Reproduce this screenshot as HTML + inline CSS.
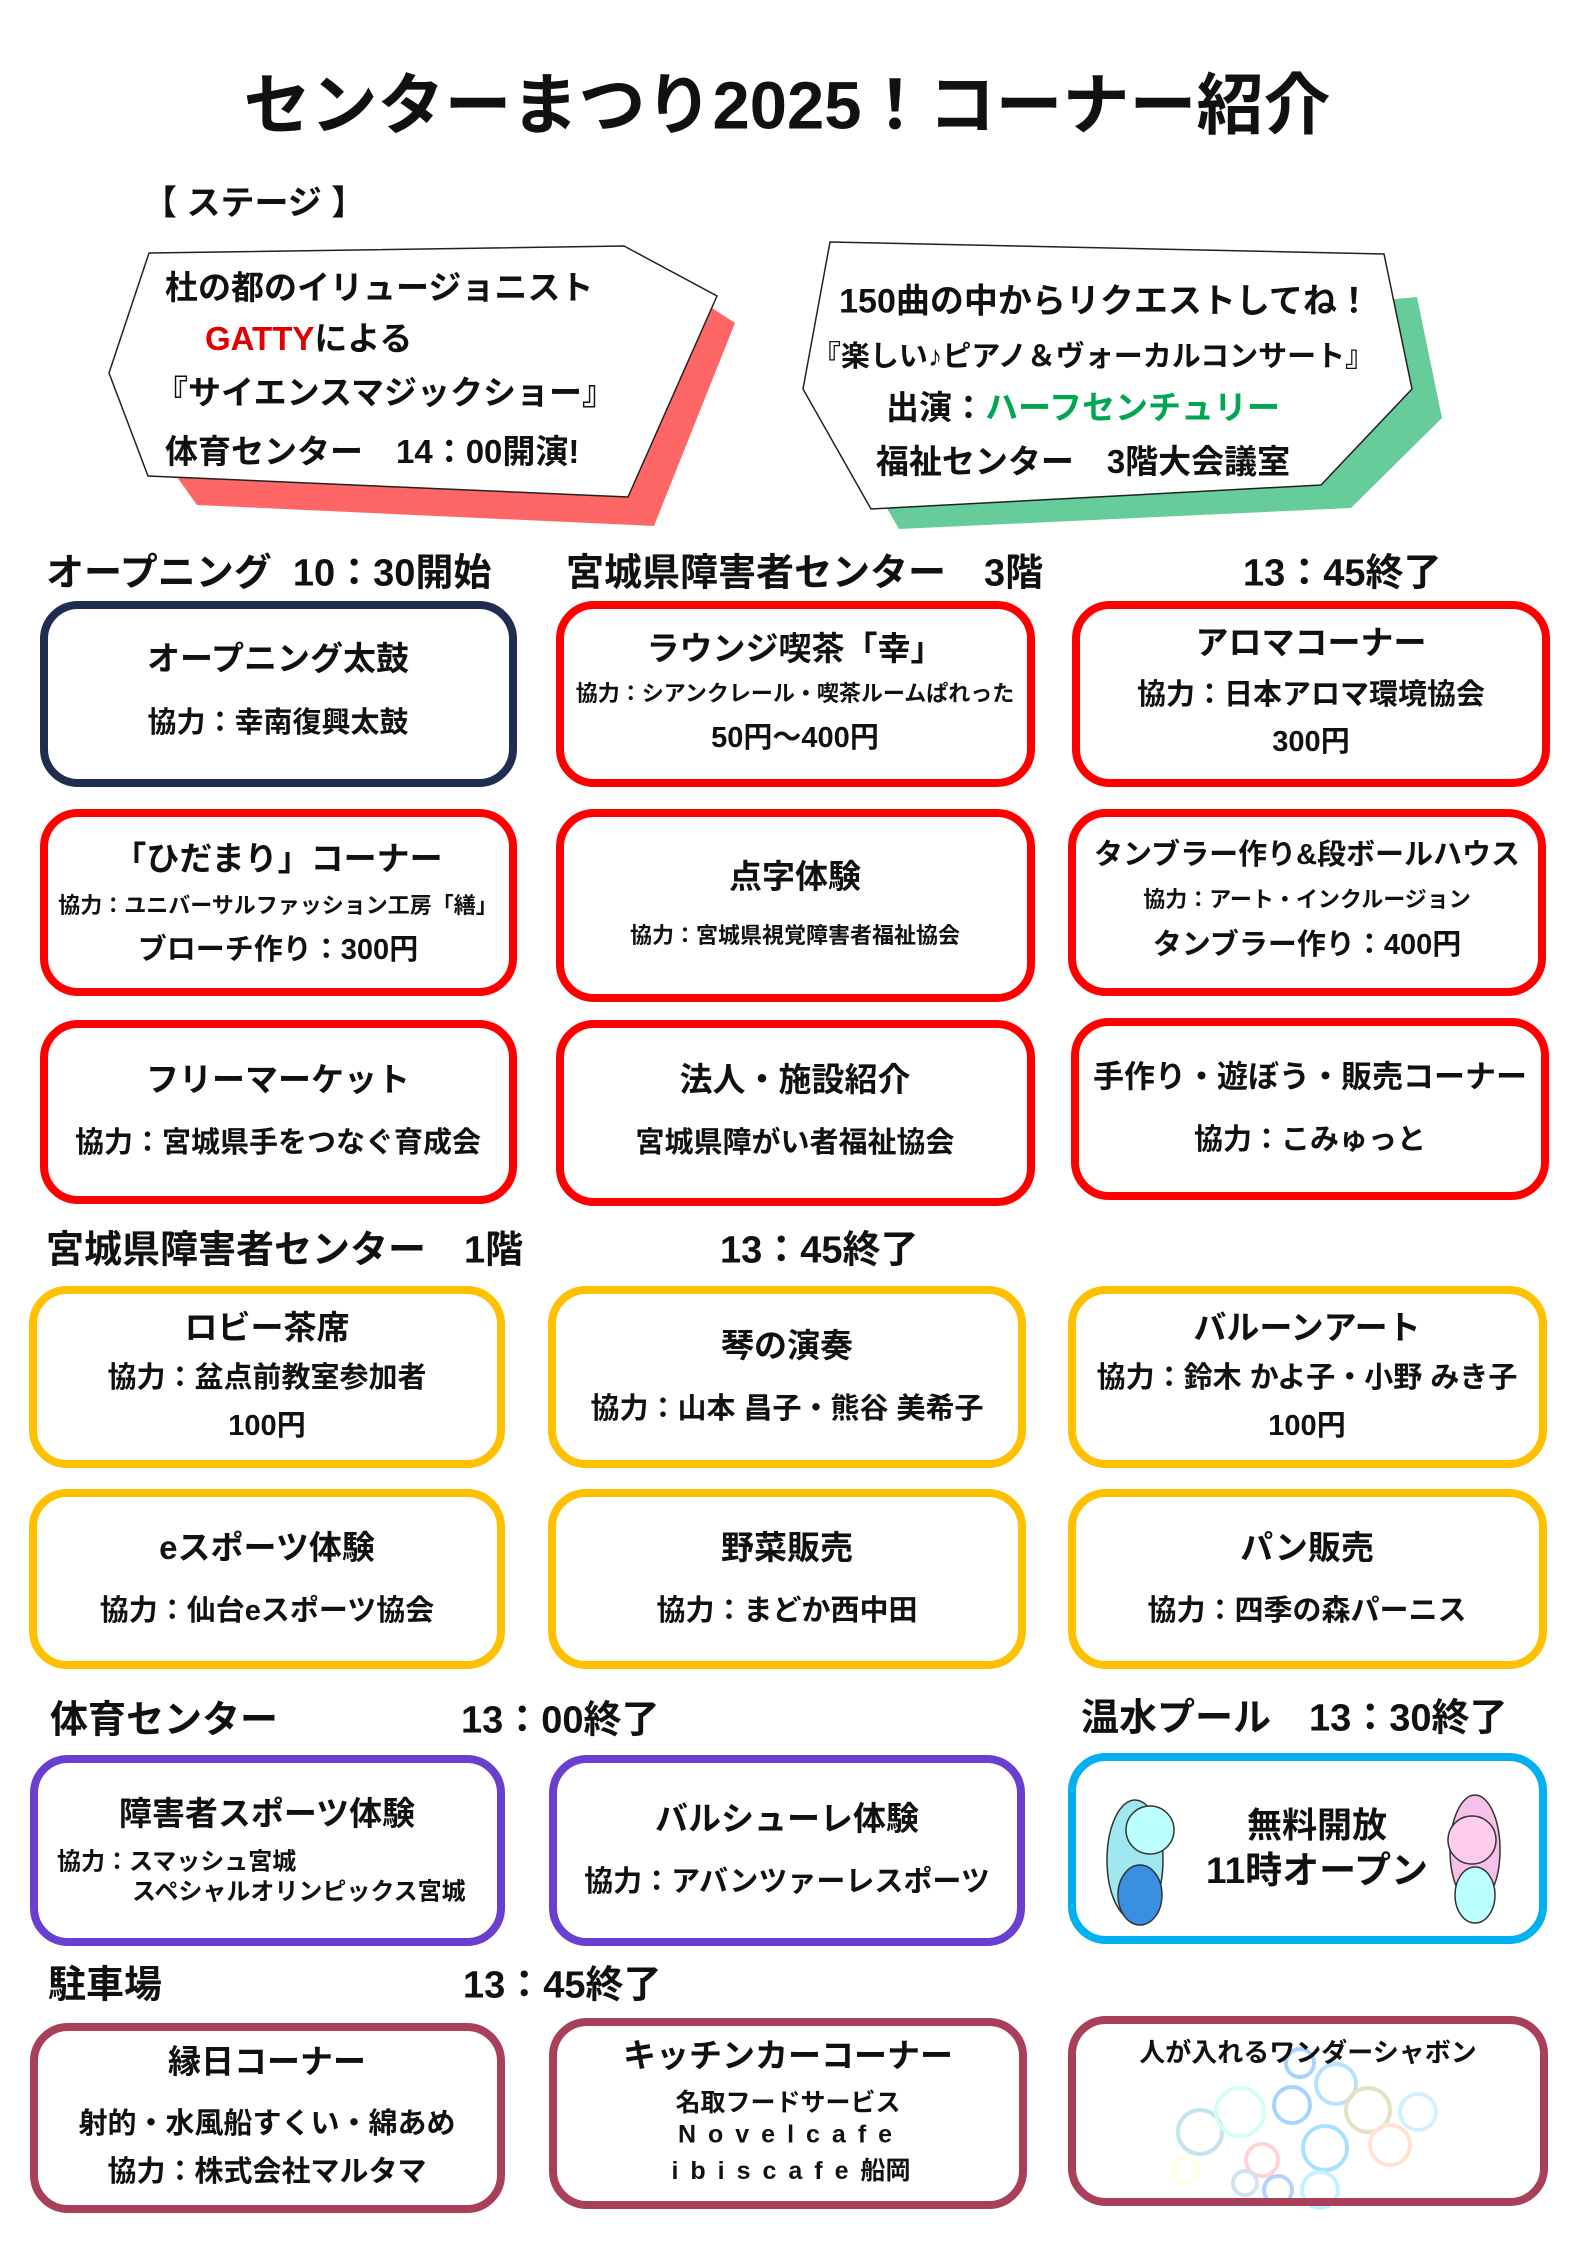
<!DOCTYPE html>
<html><head><meta charset="utf-8"><style>
body{margin:0;width:1575px;height:2245px;background:#fff;position:relative;overflow:hidden;font-family:"Liberation Sans","Noto Sans CJK JP",sans-serif;font-weight:bold;color:#111}
.t{position:absolute;transform:translate(-50%,-50%);white-space:nowrap}
.l{position:absolute;transform:translateY(-50%);white-space:nowrap}
.b{position:absolute;box-sizing:border-box;border:8px solid;border-radius:38px;background:#fff}
.f1{font-size:33px}.f2{font-size:29px}.f3{font-size:22px}.h{font-size:38px}
.s1{font-size:33px}
</style></head><body>
<svg width="1575" height="2245" style="position:absolute;left:0;top:0">
<polygon points="177,477 628,497 712,308 735,323 654,526 197,505" fill="#ff6666"/>
<polygon points="149,253 624,246 717,296 628,497 148,476 109,373" fill="#fff" stroke="#222" stroke-width="1.5"/>
<polygon points="1384,300 1417,297 1442,418 1351,508 899,529 885,505 1321,485 1412,389" fill="#66cc99"/>
<polygon points="830,242 1384,254 1412,389 1321,485 871,509 803,389" fill="#fff" stroke="#222" stroke-width="1.5"/>
</svg>
<div class="t" style="left:787px;top:100px;font-size:67px">センターまつり2025！コーナー紹介</div>
<div class="l" style="left:143px;top:200px;font-size:34px">【 ステージ 】</div>
<div class="l s1" style="left:165px;top:285px">杜の都のイリュージョニスト</div>
<div class="l s1" style="left:205px;top:336px"><span style="color:#e00000">GATTY</span>による</div>
<div class="l s1" style="left:155px;top:390px">『サイエンスマジックショー』</div>
<div class="l s1" style="left:165px;top:449px">体育センター　14：00開演!</div>
<div class="t" style="left:1105px;top:298px;font-size:34px">150曲の中からリクエストしてね！</div>
<div class="t" style="left:1093px;top:354px;font-size:29px">『楽しい♪ピアノ＆ヴォーカルコンサート』</div>
<div class="t s1" style="left:1083px;top:405px">出演：<span style="color:#00a651">ハーフセンチュリー</span></div>
<div class="t s1" style="left:1083px;top:459px">福祉センター　3階大会議室</div>

<div class="l h" style="left:46px;top:569px">オープニング&nbsp;&nbsp;10：30開始</div>
<div class="l h" style="left:566px;top:569px">宮城県障害者センター　3階</div>
<div class="l h" style="left:1243px;top:569px">13：45終了</div>

<div class="b" style="left:40px;top:601px;width:477px;height:186px;border-color:#1f2d50"></div>
<div class="t f1" style="left:278px;top:656px">オープニング太鼓</div>
<div class="t f2" style="left:278px;top:720px">協力：幸南復興太鼓</div>
<div class="b" style="left:556px;top:601px;width:479px;height:186px;border-color:#f00"></div>
<div class="t f1" style="left:795px;top:646px">ラウンジ喫茶「幸」</div>
<div class="t f3" style="left:795px;top:692px">協力：シアンクレール・喫茶ルームぱれった</div>
<div class="t f2" style="left:795px;top:735px">50円～400円</div>
<div class="b" style="left:1072px;top:601px;width:478px;height:186px;border-color:#f00"></div>
<div class="t f1" style="left:1311px;top:640px">アロマコーナー</div>
<div class="t f2" style="left:1311px;top:692px">協力：日本アロマ環境協会</div>
<div class="t f2" style="left:1311px;top:739px">300円</div>

<div class="b" style="left:40px;top:809px;width:477px;height:187px;border-color:#f00"></div>
<div class="t f1" style="left:278px;top:856px">「ひだまり」コーナー</div>
<div class="t f3" style="left:278px;top:904px">協力：ユニバーサルファッション工房「繕」</div>
<div class="t f2" style="left:278px;top:947px">ブローチ作り：300円</div>
<div class="b" style="left:556px;top:809px;width:479px;height:193px;border-color:#f00"></div>
<div class="t f1" style="left:795px;top:874px">点字体験</div>
<div class="t f3" style="left:795px;top:934px">協力：宮城県視覚障害者福祉協会</div>
<div class="b" style="left:1068px;top:809px;width:478px;height:187px;border-color:#f00"></div>
<div class="t" style="left:1307px;top:852px;font-size:29px">タンブラー作り&amp;段ボールハウス</div>
<div class="t f3" style="left:1307px;top:898px">協力：アート・インクルージョン</div>
<div class="t f2" style="left:1307px;top:942px">タンブラー作り：400円</div>

<div class="b" style="left:40px;top:1020px;width:477px;height:184px;border-color:#f00"></div>
<div class="t f1" style="left:278px;top:1077px">フリーマーケット</div>
<div class="t f2" style="left:278px;top:1140px">協力：宮城県手をつなぐ育成会</div>
<div class="b" style="left:556px;top:1020px;width:479px;height:186px;border-color:#f00"></div>
<div class="t f1" style="left:795px;top:1077px">法人・施設紹介</div>
<div class="t f2" style="left:795px;top:1140px">宮城県障がい者福祉協会</div>
<div class="b" style="left:1071px;top:1018px;width:478px;height:182px;border-color:#f00"></div>
<div class="t" style="left:1310px;top:1074px;font-size:31px">手作り・遊ぼう・販売コーナー</div>
<div class="t f2" style="left:1310px;top:1137px">協力：こみゅっと</div>

<div class="l h" style="left:46px;top:1246px">宮城県障害者センター　1階</div>
<div class="l h" style="left:720px;top:1246px">13：45終了</div>

<div class="b" style="left:29px;top:1286px;width:476px;height:182px;border-color:#ffc000"></div>
<div class="t f1" style="left:267px;top:1325px">ロビー茶席</div>
<div class="t f2" style="left:267px;top:1375px">協力：盆点前教室参加者</div>
<div class="t f2" style="left:267px;top:1423px">100円</div>
<div class="b" style="left:548px;top:1286px;width:478px;height:182px;border-color:#ffc000"></div>
<div class="t f1" style="left:787px;top:1343px">琴の演奏</div>
<div class="t f2" style="left:787px;top:1406px">協力：山本 昌子・熊谷 美希子</div>
<div class="b" style="left:1068px;top:1286px;width:479px;height:182px;border-color:#ffc000"></div>
<div class="t f1" style="left:1307px;top:1325px">バルーンアート</div>
<div class="t f2" style="left:1307px;top:1375px">協力：鈴木 かよ子・小野 みき子</div>
<div class="t f2" style="left:1307px;top:1423px">100円</div>

<div class="b" style="left:29px;top:1489px;width:476px;height:180px;border-color:#ffc000"></div>
<div class="t f1" style="left:267px;top:1545px">eスポーツ体験</div>
<div class="t f2" style="left:267px;top:1608px">協力：仙台eスポーツ協会</div>
<div class="b" style="left:548px;top:1489px;width:478px;height:180px;border-color:#ffc000"></div>
<div class="t f1" style="left:787px;top:1545px">野菜販売</div>
<div class="t f2" style="left:787px;top:1608px">協力：まどか西中田</div>
<div class="b" style="left:1068px;top:1489px;width:479px;height:180px;border-color:#ffc000"></div>
<div class="t f1" style="left:1307px;top:1545px">パン販売</div>
<div class="t f2" style="left:1307px;top:1608px">協力：四季の森パーニス</div>

<div class="l h" style="left:50px;top:1716px">体育センター</div>
<div class="l h" style="left:461px;top:1716px">13：00終了</div>
<div class="l h" style="left:1081px;top:1714px">温水プール　13：30終了</div>

<div class="b" style="left:30px;top:1755px;width:475px;height:191px;border-color:#6a3fd0"></div>
<div class="t f1" style="left:267px;top:1811px">障害者スポーツ体験</div>
<div class="l" style="left:57px;top:1859px;font-size:24px">協力：スマッシュ宮城</div>
<div class="l" style="left:132px;top:1889px;font-size:24px">スペシャルオリンピックス宮城</div>
<div class="b" style="left:549px;top:1755px;width:476px;height:191px;border-color:#6a3fd0"></div>
<div class="t f1" style="left:787px;top:1816px">バルシューレ体験</div>
<div class="t f2" style="left:787px;top:1879px">協力：アバンツァーレスポーツ</div>
<div class="b" style="left:1068px;top:1753px;width:479px;height:191px;border-color:#00b0f0"></div>
<svg width="1575" height="2245" style="position:absolute;left:0;top:0;pointer-events:none">
<g stroke="#333" stroke-width="1.5">
<ellipse cx="1135" cy="1860" rx="28" ry="60" fill="#9fe8f0"/>
<circle cx="1150" cy="1830" r="24" fill="#bff"/>
<ellipse cx="1140" cy="1895" rx="22" ry="30" fill="#3a8fe0"/>
<ellipse cx="1475" cy="1850" rx="25" ry="55" fill="#f7c0e8"/>
<circle cx="1472" cy="1840" r="24" fill="#fce"/>
<ellipse cx="1475" cy="1895" rx="20" ry="28" fill="#bff"/>
</g>
<g fill="none" stroke-width="4" opacity="0.85">
<circle cx="1200" cy="2132" r="22" stroke="#bde"/><circle cx="1240" cy="2112" r="24" stroke="#cfe"/>
<circle cx="1292" cy="2105" r="18" stroke="#9cf"/><circle cx="1336" cy="2084" r="20" stroke="#adf"/>
<circle cx="1368" cy="2110" r="22" stroke="#ddb"/><circle cx="1262" cy="2160" r="16" stroke="#fcc"/>
<circle cx="1325" cy="2148" r="22" stroke="#9df"/><circle cx="1390" cy="2145" r="20" stroke="#fdc"/>
<circle cx="1278" cy="2190" r="14" stroke="#acf"/><circle cx="1320" cy="2190" r="18" stroke="#bef"/>
<circle cx="1245" cy="2183" r="12" stroke="#cde"/><circle cx="1300" cy="2063" r="14" stroke="#9cf"/>
<circle cx="1418" cy="2112" r="18" stroke="#cef"/><circle cx="1185" cy="2170" r="13" stroke="#ffd"/>
</g>
</svg>
<div class="t" style="left:1317px;top:1823px;font-size:35px">無料開放</div>
<div class="t" style="left:1317px;top:1867px;font-size:37px">11時オープン</div>

<div class="l h" style="left:48px;top:1981px">駐車場</div>
<div class="l h" style="left:463px;top:1981px">13：45終了</div>

<div class="b" style="left:30px;top:2023px;width:475px;height:190px;border-color:#a8405a"></div>
<div class="t f1" style="left:267px;top:2059px">縁日コーナー</div>
<div class="t f2" style="left:267px;top:2121px">射的・水風船すくい・綿あめ</div>
<div class="t f2" style="left:267px;top:2169px">協力：株式会社マルタマ</div>
<div class="b" style="left:549px;top:2018px;width:478px;height:191px;border-color:#a8405a"></div>
<div class="t f1" style="left:788px;top:2053px">キッチンカーコーナー</div>
<div class="t" style="left:788px;top:2101px;font-size:25px">名取フードサービス</div>
<div class="t" style="left:791px;top:2135px;font-size:25px;letter-spacing:12px">Novelcafe</div>
<div class="t" style="left:791px;top:2169px;font-size:25px"><span style="letter-spacing:12px">ibiscafe</span>船岡</div>
<div class="b" style="left:1068px;top:2016px;width:480px;height:190px;border-color:#a8405a;background:transparent"></div>
<div class="t" style="left:1308px;top:2051px;font-size:26px">人が入れるワンダーシャボン</div>
</body></html>
